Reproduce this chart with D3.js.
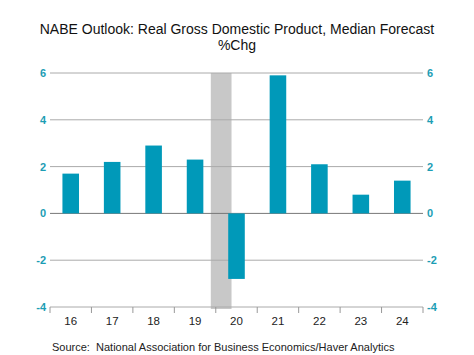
<!DOCTYPE html>
<html><head><meta charset="utf-8">
<script src="https://cdn.jsdelivr.net/npm/d3@7"></script>
<style>body{margin:0;background:#fff}svg{display:block;font-family:"Liberation Sans",Arial,sans-serif}</style>
</head><body><div id="chart"></div>
<script>
const years = [2016,2017,2018,2019,2020,2021,2022,2023,2024];
const yearLabels = ["16","17","18","19","20","21","22","23","24"];
const gdpGrowth = [1.7,2.2,2.9,2.3,-2.8,5.9,2.1,0.8,1.4];
const yTicks = [-4,-2,0,2,4,6];
const recession = [2019.88, 2020.38];

(function(){
const W=474,H=355, mL=50, mR=423, mT=73, mB=307;
const svg=d3.select("#chart").append("svg").attr("width",W).attr("height",H);
const x=d3.scaleLinear().domain([2016,2025]).range([mL,mR]);
const y=d3.scaleLinear().domain([-4,6]).range([mB,mT]);
const teal="#0099b9", tickTeal="#1c9db4";

svg.append("text").attr("x",237).attr("y",34).attr("text-anchor","middle").attr("font-size",14).attr("fill","#111")
  .text("NABE Outlook: Real Gross Domestic Product, Median Forecast");
svg.append("text").attr("x",237).attr("y",50).attr("text-anchor","middle").attr("font-size",14).attr("fill","#111").text("%Chg");

svg.append("rect").attr("x",x(recession[0])).attr("width",x(recession[1])-x(recession[0]))
  .attr("y",mT).attr("height",mB-mT+2).attr("fill","#c8c8c8");

svg.append("g").selectAll("line").data(yTicks.filter(d=>d!==-4)).join("line")
  .attr("x1",mL).attr("x2",mR).attr("y1",d=>y(d)).attr("y2",d=>y(d))
  .attr("stroke",d=>d===0?"#777":"#aaa").attr("stroke-width",1);

const bw=(x(2017)-x(2016))*0.4;
svg.append("g").selectAll("rect").data(years).join("rect")
  .attr("x",(d)=>x(d+0.5)-bw/2).attr("width",bw)
  .attr("y",(d,i)=>y(Math.max(0,gdpGrowth[i])))
  .attr("height",(d,i)=>Math.abs(y(gdpGrowth[i])-y(0)))
  .attr("fill",teal);

svg.append("line").attr("x1",mL).attr("x2",mR).attr("y1",mB).attr("y2",mB).attr("stroke","#aaa");
const xt=years.concat([2025]);
svg.append("g").selectAll("line").data(xt).join("line")
  .attr("x1",d=>x(d)).attr("x2",d=>x(d)).attr("y1",mB).attr("y2",mB+6).attr("stroke","#999");
svg.append("g").selectAll("text").data(years).join("text")
  .attr("x",d=>x(d+0.5)).attr("y",mB+18).attr("text-anchor","middle").attr("font-size",11.5).attr("fill","#222")
  .text((d,i)=>yearLabels[i]);

const yl=svg.append("g").attr("font-size",11).attr("font-weight","bold").attr("fill",tickTeal);
yl.selectAll("text.l").data(yTicks).join("text").attr("class","l")
  .attr("x",mL-4).attr("y",d=>y(d)+4).attr("text-anchor","end").text(d=>d);
yl.selectAll("text.r").data(yTicks).join("text").attr("class","r")
  .attr("x",mR+4).attr("y",d=>y(d)+4).attr("text-anchor","start").text(d=>d);

svg.append("text").attr("x",52).attr("y",351).attr("font-size",11).attr("fill","#222")
  .style("white-space","pre")
  .text("Source:  National Association for Business Economics/Haver Analytics");
})();
</script></body></html>
